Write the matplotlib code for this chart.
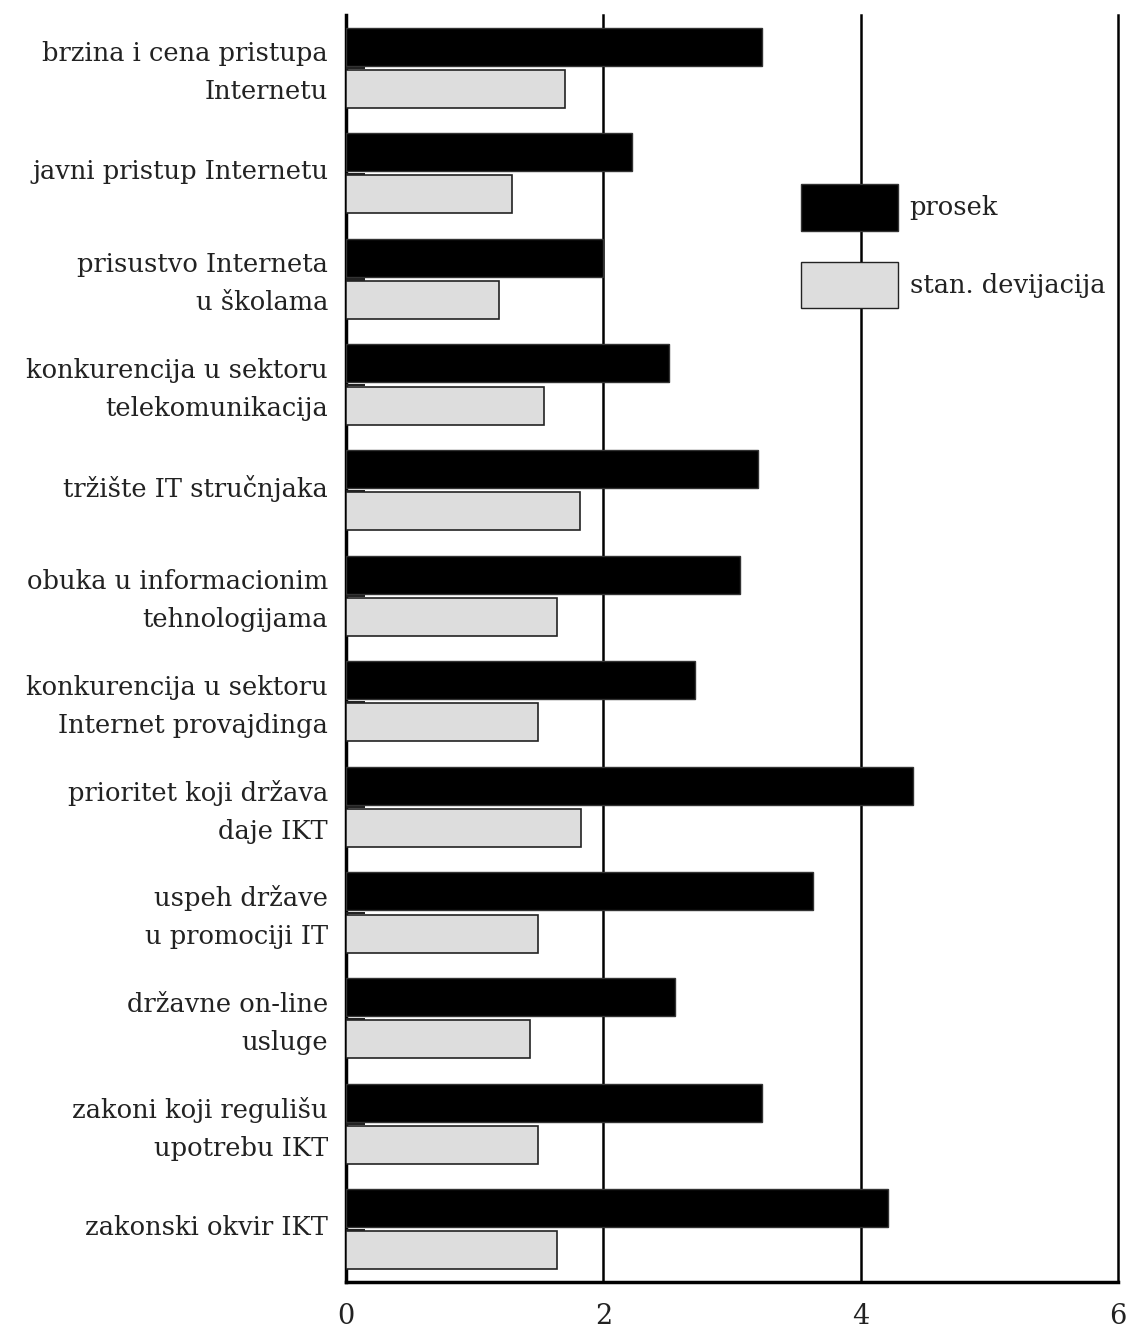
import matplotlib.pyplot as plt
from matplotlib.patches import Patch
from matplotlib.transforms import ScaledTranslation
import numpy as np

# === Data ===
categories = [
    "brzina i cena pristupa\nInternetu",
    "javni pristup Internetu",
    "prisustvo Interneta\nu školama",
    "konkurencija u sektoru\ntelekomunikacija",
    "tržište IT stručnjaka",
    "obuka u informacionim\ntehnologijama",
    "konkurencija u sektoru\nInternet provajdinga",
    "prioritet koji država\ndaje IKT",
    "uspeh države\nu promociji IT",
    "državne on-line\nusluge",
    "zakoni koji regulišu\nupotrebu IKT",
    "zakonski okvir IKT",
]
prosek = [3.23, 2.22, 2.00, 2.51, 3.20, 3.06, 2.71, 4.41, 3.63, 2.56, 3.23, 4.21]
stan_dev = [1.70, 1.29, 1.19, 1.54, 1.82, 1.64, 1.49, 1.83, 1.49, 1.43, 1.49, 1.64]
ostalo = [0.15] * 12   # tiny dark stub between the two bars
xticks = [0, 2, 4, 6]

plt.rcParams['font.family'] = ['DejaVu Serif']
FS = 18.5
TXT = '#222222'

fig = plt.figure(figsize=(11.26, 13.31), dpi=100)
ax = fig.add_axes([346 / 1126, 1 - 1282 / 1331, 772 / 1126, 1267 / 1331])

y = np.arange(len(categories))
h = 0.36
ax.barh(y - 0.2, prosek, height=h, color='black', edgecolor='#333333', linewidth=1, zorder=3)
ax.barh(y + 0.2, stan_dev, height=h, color='#dddddd', edgecolor='#222222', linewidth=1.2, zorder=3)
ax.barh(y + 0.005, ostalo, height=0.02, color='#222222', linewidth=0, zorder=4)

ax.set_xlim(0, 6)
ax.set_ylim(len(categories) - 0.5, -0.5)
ax.set_xticks(xticks)
ax.set_xticklabels([str(t) for t in xticks], fontsize=FS + 1, color=TXT)
ax.set_yticks(y)
ax.set_yticklabels(categories, fontsize=FS, color=TXT, linespacing=1.65)
ax.tick_params(axis='both', length=0)
ax.tick_params(axis='y', pad=13)
ax.tick_params(axis='x', pad=15)

# nudge the category labels up a few pixels
shift = ScaledTranslation(0, 4 / 100, fig.dpi_scale_trans)
for lab in ax.get_yticklabels():
    lab.set_transform(lab.get_transform() + shift)

for t in xticks[1:]:
    ax.axvline(t, color='black', linewidth=1.8, zorder=1, clip_on=False)

ax.spines['top'].set_visible(False)
ax.spines['right'].set_visible(False)
ax.spines['left'].set_linewidth(2.5)
ax.spines['bottom'].set_linewidth(2.5)

handles = [
    Patch(facecolor='black', edgecolor='#333333', label='prosek'),
    Patch(facecolor='#dddddd', edgecolor='#222222', label='stan. devijacija'),
]
fs_px = FS * 100 / 72
leg = ax.legend(handles=handles, loc='upper left', bbox_to_anchor=(0.589, 0.8666),
                frameon=False, fontsize=FS, borderpad=0, borderaxespad=0,
                handlelength=97 / fs_px, handleheight=62 / fs_px,
                labelspacing=31 / fs_px, handletextpad=12 / fs_px)
leg.set_zorder(5)
for txt in leg.get_texts():
    txt.set_color(TXT)

fig.savefig('out.png', dpi=100)
